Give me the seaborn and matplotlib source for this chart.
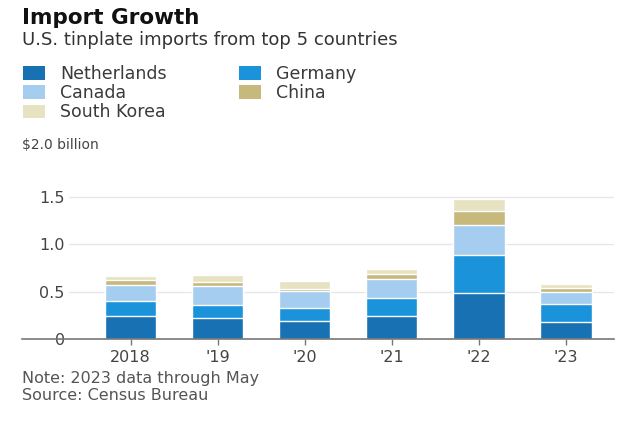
import pandas as pd
import matplotlib.pyplot as plt
import matplotlib.transforms as mtransforms
import seaborn as sns
from matplotlib.patches import Patch

# Dados (bilhões de dólares)
years = ['2018', "'19", "'20", "'21", "'22", "'23"]
netherlands = [0.245, 0.22, 0.185, 0.24, 0.485, 0.175]
germany = [0.15, 0.14, 0.14, 0.19, 0.40, 0.19]
canada = [0.175, 0.20, 0.18, 0.20, 0.315, 0.13]
china = [0.05, 0.045, 0.02, 0.055, 0.15, 0.045]
south_korea = [0.045, 0.065, 0.09, 0.05, 0.12, 0.04]

countries = ['Netherlands', 'Germany', 'Canada', 'China', 'South Korea']
colors = ['#1771b2', '#1b93da', '#a5cdf0', '#c7b87c', '#e6e2c2']

df = pd.DataFrame({'year': years, 'Netherlands': netherlands, 'Germany': germany,
                   'Canada': canada, 'China': china, 'South Korea': south_korea})

# totais acumulados para empilhar
cum = df[countries].cumsum(axis=1)
cum['year'] = df['year']

sns.set_theme(style='white')
plt.rcParams['font.family'] = ['DejaVu Sans']

fig = plt.figure(figsize=(6.4, 4.26), dpi=100)
ax = fig.add_axes([0.034, 0.2042, 0.925, 0.446])

# desenha do topo para a base, cada barra cobre a anterior
for name, col in reversed(list(zip(countries, colors))):
    sns.barplot(data=cum, x='year', y=name, order=years, color=col, width=0.59,
                edgecolor='white', linewidth=1.0, saturation=1, ax=ax)

ax.set_xlim(-1.25, 5.55)
ax.set_ylim(0, 2.0)
ax.set_xlabel('')
ax.set_ylabel('')
for s in ['top', 'right', 'left']:
    ax.spines[s].set_visible(False)
ax.spines['bottom'].set_color('#777777')
ax.spines['bottom'].set_linewidth(1.2)

# linhas de grade
for v in [0.5, 1.0, 1.5]:
    ax.axhline(v, xmin=0.08, xmax=1.0, color='#e6e6e6', lw=0.9, zorder=0)

ax.set_yticks([0, 0.5, 1.0, 1.5])
ax.set_yticklabels(['0', '0.5', '1.0', '1.5'])
ax.tick_params(axis='y', length=0, pad=-31, labelsize=11.5, labelcolor='#444444')
ax.tick_params(axis='x', length=4, width=1, color='#777777', pad=4,
               labelsize=11.5, labelcolor='#444444', bottom=True)
trans = mtransforms.blended_transform_factory(ax.transAxes, ax.transData)
ax.text(0.0, 2.04, '$2.0 billion', transform=trans, fontsize=10,
        color='#444444', va='center', ha='left')

fig.text(0.034, 0.958, 'Import Growth', fontsize=15.5, fontweight='bold',
         color='#111111', va='center')
fig.text(0.034, 0.906, 'U.S. tinplate imports from top 5 countries', fontsize=13,
         color='#333333', va='center')

handles = [Patch(facecolor=c, edgecolor='none') for c in colors]
order = [0, 2, 4, 1, 3]
fig.legend([handles[i] for i in order], [countries[i] for i in order],
           loc='upper left', bbox_to_anchor=(0.023, 0.868), ncol=2, frameon=False,
           fontsize=12.5, handlelength=1.25, handleheight=0.8, handletextpad=0.85,
           columnspacing=4.2, labelspacing=0.07, borderpad=0, labelcolor='#3a3a3a')

fig.text(0.034, 0.112, 'Note: 2023 data through May', fontsize=11.5,
         color='#555555', va='center')
fig.text(0.034, 0.072, 'Source: Census Bureau', fontsize=11.5,
         color='#555555', va='center')

fig.savefig('out.png', dpi=100)
